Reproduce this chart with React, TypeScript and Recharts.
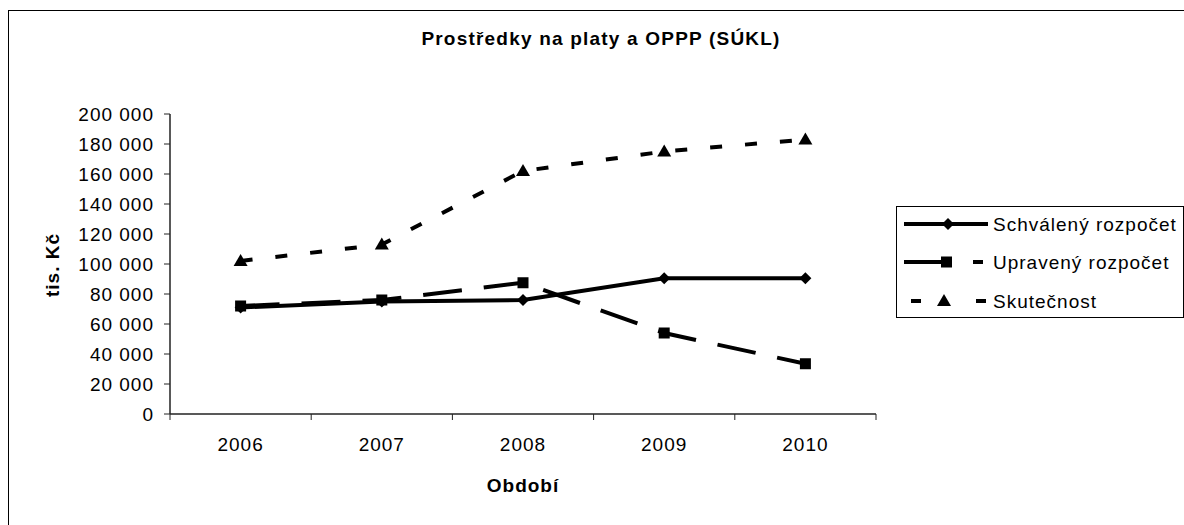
import React from 'react';
import { LineChart, Line, XAxis, YAxis, Legend } from 'recharts';

const years = ['2006', '2007', '2008', '2009', '2010'];
const schvaleny = [71000, 75000, 76000, 90500, 90500];
const upraveny = [72000, 76000, 87500, 54000, 33500];
const skutecnost = [102000, 113000, 162000, 175000, 183000];
const yTicks = [0, 20000, 40000, 60000, 80000, 100000, 120000, 140000, 160000, 180000, 200000];

const seriesNames = ['Schválený rozpočet', 'Upravený rozpočet', 'Skutečnost'];

const data = years.map((y, i) => ({
  year: y,
  s: schvaleny[i],
  u: upraveny[i],
  k: skutecnost[i],
}));

const FONT = '"Liberation Sans", Arial, sans-serif';
const FS = 19;
const LS = 1;

const fmt = (v: number) => {
  if (v === 0) return '0';
  const s = String(v);
  return s.replace(/\B(?=(\d{3})+(?!\d))/g, ' ');
};

const Diamond = (p: any) => {
  const { cx, cy, index } = p;
  if (cx == null || cy == null) return <g key={`dd-${index}`} />;
  return <path key={`dd-${index}`} d={`M${cx},${cy - 6} L${cx + 6},${cy} L${cx},${cy + 6} L${cx - 6},${cy} Z`} fill="#000" />;
};
const Square = (p: any) => {
  const { cx, cy, index } = p;
  if (cx == null || cy == null) return <g key={`ds-${index}`} />;
  return <rect key={`ds-${index}`} x={cx - 5.5} y={cy - 5.5} width={11} height={11} fill="#000" />;
};
const Triangle = (p: any) => {
  const { cx, cy, index } = p;
  if (cx == null || cy == null) return <g key={`dt-${index}`} />;
  return <path key={`dt-${index}`} d={`M${cx},${cy - 7} L${cx + 7},${cy + 5} L${cx - 7},${cy + 5} Z`} fill="#000" />;
};

const XTick = (p: any) => {
  const { x, y, payload, index } = p;
  const axisW = typeof p.width === 'number' && p.width > 0 ? p.width : 706;
  const half = axisW / years.length / 2;
  const isLast = index === years.length - 1;
  return (
    <g>
      <line x1={x - half} y1={y - 24} x2={x - half} y2={y - 18} stroke="#222" strokeWidth={1} />
      {isLast && <line x1={x + half} y1={y - 24} x2={x + half} y2={y - 18} stroke="#222" strokeWidth={1} />}
      <text x={x} y={y} dy="0.71em" textAnchor="middle" style={{ fontFamily: FONT, fontSize: FS, letterSpacing: LS }} fill="#000">
        {payload.value}
      </text>
    </g>
  );
};

const LegendContent = () => {
  const textStyle = { fontFamily: FONT, fontSize: FS, letterSpacing: LS } as any;
  return (
    <svg width={287} height={112} style={{ display: 'block' }}>
      <line x1={7} y1={17} x2={91} y2={17} stroke="#000" strokeWidth={4} />
      <path d="M51,11 L57,17 L51,23 L45,17 Z" fill="#000" />
      <text x={96} y={24} style={textStyle}>{seriesNames[0]}</text>
      <line x1={7} y1={55} x2={44} y2={55} stroke="#000" strokeWidth={4} />
      <rect x={44} y={49.5} width={11} height={11} fill="#000" />
      <line x1={76} y1={55} x2={86} y2={55} stroke="#000" strokeWidth={4} />
      <text x={96} y={62} style={textStyle}>{seriesNames[1]}</text>
      <line x1={14} y1={94} x2={24} y2={94} stroke="#000" strokeWidth={4} />
      <path d="M47,87 L54,99 L40,99 Z" fill="#000" />
      <line x1={79} y1={94} x2={89} y2={94} stroke="#000" strokeWidth={4} />
      <text x={96} y={101} style={textStyle}>{seriesNames[2]}</text>
    </svg>
  );
};

export default function App() {
  const tickStyle = { fontFamily: FONT, fontSize: FS, fill: '#000', letterSpacing: LS } as any;
  return (
    <div style={{ position: 'absolute', left: 0, top: 0, width: 1184, height: 525, overflow: 'hidden', background: '#fff' }}>
      <div style={{ position: 'absolute', left: 8, top: 10, width: 1300, height: 700, border: '1px solid #000' }} />
      <div style={{ position: 'absolute', left: 0, top: 0 }}>
        <LineChart width={1184} height={525} data={data} margin={{ top: 114, right: 308, bottom: 0, left: 0 }}>
          <XAxis
            dataKey="year"
            xAxisId="main"
            scale="band"
            height={111}
            tick={<XTick />}
            tickSize={6}
            tickMargin={18}
            interval={0}
            axisLine={{ stroke: '#222', strokeWidth: 1.5 }}
            tickLine={false}
          />
          <XAxis dataKey="year" xAxisId="top" orientation="top" height={0} tick={false} tickLine={false} axisLine={{ stroke: '#222', strokeWidth: 1.5 }} />
          <YAxis
            yAxisId="main"
            width={170}
            domain={[0, 200000]}
            ticks={yTicks}
            tickFormatter={fmt}
            tick={tickStyle}
            tickSize={6}
            tickMargin={10}
            interval={0}
            axisLine={{ stroke: '#222', strokeWidth: 1.5 }}
            tickLine={{ stroke: '#222' }}
          />
          <YAxis yAxisId="right" orientation="right" width={0} domain={[0, 200000]} tick={false} tickLine={false} axisLine={{ stroke: '#222', strokeWidth: 1.5 }} />
          <Line
            xAxisId="main"
            yAxisId="main"
            dataKey="s"
            name={seriesNames[0]}
            stroke="#000"
            strokeWidth={4}
            dot={Diamond}
            activeDot={false}
            isAnimationActive={false}
          />
          <Line
            xAxisId="main"
            yAxisId="main"
            dataKey="u"
            name={seriesNames[1]}
            stroke="#000"
            strokeWidth={4}
            strokeDasharray="39 22"
            dot={Square}
            activeDot={false}
            isAnimationActive={false}
          />
          <Line
            xAxisId="main"
            yAxisId="main"
            dataKey="k"
            name={seriesNames[2]}
            stroke="#000"
            strokeWidth={4}
            strokeDasharray="12 23"
            dot={Triangle}
            activeDot={false}
            isAnimationActive={false}
          />
          <Legend
            layout="horizontal"
            align="center"
            verticalAlign="middle"
            content={LegendContent}
            wrapperStyle={{ position: 'absolute', left: 896, top: 206, width: 288, height: 112, border: '1px solid #000', boxSizing: 'border-box', background: '#fff' }}
          />
          <text x={601} y={45} textAnchor="middle" style={{ fontFamily: FONT, fontSize: FS, fontWeight: 'bold', letterSpacing: 1.2 }}>
            Prostředky na platy a OPPP (SÚKL)
          </text>
          <text x={0} y={0} transform="translate(59,265) rotate(-90)" textAnchor="middle" style={{ fontFamily: FONT, fontSize: FS, fontWeight: 'bold', letterSpacing: LS }}>
            tis. Kč
          </text>
          <text x={523} y={492} textAnchor="middle" style={{ fontFamily: FONT, fontSize: FS, fontWeight: 'bold', letterSpacing: LS }}>
            Období
          </text>
        </LineChart>
      </div>
    </div>
  );
}
